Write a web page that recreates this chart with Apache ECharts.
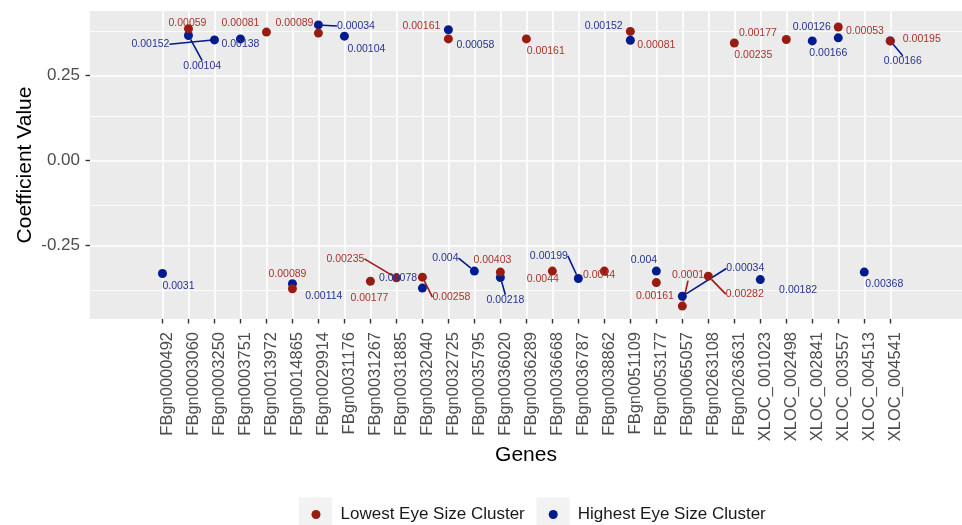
<!DOCTYPE html>
<html>
<head>
<meta charset="utf-8">
<script src="https://cdn.jsdelivr.net/npm/echarts@6/dist/echarts.min.js"></script>
<style>
  html, body { margin: 0; padding: 0; background: #ffffff; }
  #chart { width: 962px; height: 525px; }
</style>
</head>
<body>
<div id="chart"></div>
<script>
// Genes on the x axis
const genes = [
  'FBgn0000492', 'FBgn0003060', 'FBgn0003250', 'FBgn0003751', 'FBgn0013972',
  'FBgn0014865', 'FBgn0029914', 'FBgn0031176', 'FBgn0031267', 'FBgn0031885',
  'FBgn0032040', 'FBgn0032725', 'FBgn0035795', 'FBgn0036020', 'FBgn0036289',
  'FBgn0036668', 'FBgn0036787', 'FBgn0038862', 'FBgn0051109', 'FBgn0053177',
  'FBgn0065057', 'FBgn0263108', 'FBgn0263631', 'XLOC_001023', 'XLOC_002498',
  'XLOC_002841', 'XLOC_003557', 'XLOC_004513', 'XLOC_004541'
];

// Coefficients per gene (null = gene not significant in that cluster)
const lowestCoef = [
  null, 0.388, null, null, 0.378,
  -0.377, 0.375, null, -0.355, -0.345,
  -0.343, 0.358, null, -0.328, 0.358,
  -0.325, null, -0.325, 0.380, -0.359,
  -0.428, -0.340, 0.346, null, 0.356,
  null, 0.393, null, 0.352
];
const highestCoef = [
  -0.332, 0.368, 0.355, 0.358, null,
  -0.362, 0.399, 0.366, null, null,
  -0.375, 0.385, -0.325, -0.344, null,
  null, -0.347, null, 0.354, -0.325,
  -0.399, null, null, -0.350, null,
  0.352, 0.361, -0.328, 0.352
];

// p-values printed next to each point
const lowestP = [
  null, '0.00059', null, null, '0.00081',
  '0.00089', '0.00089', null, '0.00177', '0.00235',
  '0.00258', '0.00161', null, '0.00403', '0.00161',
  '0.0044', null, '0.0044', '0.00081', '0.00161',
  '0.0001', '0.00282', '0.00235', null, '0.00177',
  null, '0.00053', null, '0.00195'
];
const highestP = [
  '0.0031', '0.00104', '0.00152', '0.00138', null,
  '0.00114', '0.00034', '0.00104', null, null,
  '0.00078', '0.00058', '0.004', '0.00218', null,
  null, '0.00199', null, '0.00152', '0.004',
  '0.00034', null, null, '0.00182', null,
  '0.00126', '0.00166', '0.00368', '0.00166'
];

// Y axis breaks
const yMajorTicks = [-0.25, 0, 0.25];
const yMinorTicks = [-0.375, -0.125, 0.125, 0.375];

// Repelled label placement: [dx, dy, leader line] relative to the point
const lowestLabelShift = [
  null, [-1, -6], null, null, [-26, -9],
  [-5, -15], [-24, -10], null, [-1, 16.5], [-51, -19, 1],
  [29, 20, 1], [-27, -13], null, [-8, -11.7], [19.4, 12.3],
  [-9.6, 8.3], null, [-5.3, 4.3], [26, 14], [-1.4, 13.4],
  [5.7, -31, 1], [36.5, 18, 1], [19, 12.3], null, [-28.4, -6.6],
  null, [26.7, 4], null, [31.5, -1.4]
];
const highestLabelShift = [
  [16, 12.4], [13.7, 30.7, 1], [-64, 4.3, 1], [0, 5.6], null,
  [31.4, 12.7], [37.5, 1, 1], [22, 13.3], null, null,
  [-24.3, -10.4], [27, 15], [-29, -13, 1], [5, 22.7, 1], null,
  null, [-29.5, -22.6, 1], null, [-26.6, -14.3], [-12.4, -10.7],
  [63, -27.7, 1], null, null, [37.8, 10.7], null,
  [-0.5, -14], [-10, 15.6], [20, 11.7], [12.5, 20.3, 1]
];

const FONT = "'Liberation Sans', Arial, Helvetica, sans-serif";
const RED = '#9a1b12';
const BLUE = '#001b8e';
const RED_TEXT = '#a8342c';
const BLUE_TEXT = '#27358f';
const catIdx = genes.map((g, i) => i);

// White panel grid lines (ggplot-style), drawn through the axes' own scales
const gridLines = []
  .concat(catIdx.map(i => ({ xAxis: i, lineStyle: { width: 1.7 } })))
  .concat(yMajorTicks.map(v => ({ yAxis: v, lineStyle: { width: 1.7 } })))
  .concat(yMinorTicks.map(v => ({ yAxis: v, lineStyle: { width: 0.85 } })));

function buildSeries(name, coefs, pvals, shifts, color, textColor) {
  const items = [];
  const moves = [];
  coefs.forEach((v, i) => {
    if (v === null) return;
    const s = shifts[i] || [0, 0];
    moves.push(s);
    const item = { value: [i, v], label: { formatter: pvals[i] } };
    if (s[2]) {
      item.labelLine = { show: true, lineStyle: { color: color, width: 1.6 } };
    }
    items.push(item);
  });
  return {
    name: name,
    type: 'scatter',
    symbol: 'circle',
    symbolSize: 9,
    z: 3,
    itemStyle: { color: color, opacity: 1 },
    data: items,
    label: {
      show: true,
      position: 'inside',
      align: 'center',
      verticalAlign: 'middle',
      color: textColor,
      fontFamily: FONT,
      fontSize: 10.5
    },
    labelLine: { show: false, smooth: false },
    labelLayout: function (params) {
      const m = moves[params.dataIndex];
      return { dx: m[0], dy: m[1] };
    },
    emphasis: { disabled: true }
  };
}

const highSeries = buildSeries('Highest Eye Size Cluster', highestCoef, highestP, highestLabelShift, BLUE, BLUE_TEXT);
highSeries.markLine = {
  silent: true,
  z: 1,
  symbol: ['none', 'none'],
  label: { show: false },
  emphasis: { disabled: true },
  lineStyle: { color: '#ffffff', type: 'solid', opacity: 1 },
  data: gridLines
};
const lowSeries = buildSeries('Lowest Eye Size Cluster', lowestCoef, lowestP, lowestLabelShift, RED, RED_TEXT);

const chart = echarts.init(document.getElementById('chart'), null, { renderer: 'canvas' });

chart.setOption({
  animation: false,
  backgroundColor: '#ffffff',
  textStyle: { fontFamily: FONT },
  grid: {
    left: 90, top: 11, right: -3, bottom: 206,
    show: true, backgroundColor: '#ebebeb', borderWidth: 0
  },
  graphic: [
    { type: 'rect', z: 0, shape: { x: 299, y: 497.5, width: 33, height: 33 }, style: { fill: '#f2f2f2' } },
    { type: 'rect', z: 0, shape: { x: 536.5, y: 497.5, width: 33, height: 33 }, style: { fill: '#f2f2f2' } }
  ],
  legend: {
    left: 306.5,
    top: 501,
    orient: 'horizontal',
    icon: 'circle',
    itemWidth: 9,
    itemHeight: 9,
    itemGap: 24,
    data: ['Lowest Eye Size Cluster', 'Highest Eye Size Cluster'],
    textStyle: { fontFamily: FONT, fontSize: 17, color: '#1a1a1a', padding: [0, 0, 0, 15] }
  },
  xAxis: {
    type: 'value',
    min: -2.788,
    max: 30.76,
    name: 'Genes',
    nameLocation: 'middle',
    nameGap: 126,
    nameMoveOverlap: false,
    nameTextStyle: { fontFamily: FONT, fontSize: 21, color: '#000000' },
    axisLine: { show: false, onZero: false },
    axisTick: {
      show: true, length: 4.5, customValues: catIdx,
      lineStyle: { color: '#333333', width: 1.4 }
    },
    axisLabel: {
      customValues: catIdx,
      rotate: 90,
      margin: 13,
      verticalAlign: 'top',
      lineHeight: 10,
      fontFamily: FONT,
      fontSize: 16.5,
      color: '#4d4d4d',
      formatter: function (v) { return genes[Math.round(v)]; }
    },
    splitLine: { show: false }
  },
  yAxis: {
    type: 'value',
    min: -0.466,
    max: 0.44,
    name: 'Coefficient Value',
    nameLocation: 'middle',
    nameGap: 54,
    nameMoveOverlap: false,
    nameTextStyle: { fontFamily: FONT, fontSize: 21, color: '#000000' },
    axisLine: { show: false, onZero: false },
    axisTick: {
      show: true, length: 4.5, customValues: yMajorTicks,
      lineStyle: { color: '#333333', width: 1.4 }
    },
    axisLabel: {
      customValues: yMajorTicks,
      margin: 10,
      fontFamily: FONT,
      fontSize: 17,
      color: '#4d4d4d',
      formatter: function (v) { return v.toFixed(2); }
    },
    splitLine: { show: false }
  },
  series: [highSeries, lowSeries]
});
</script>
</body>
</html>
